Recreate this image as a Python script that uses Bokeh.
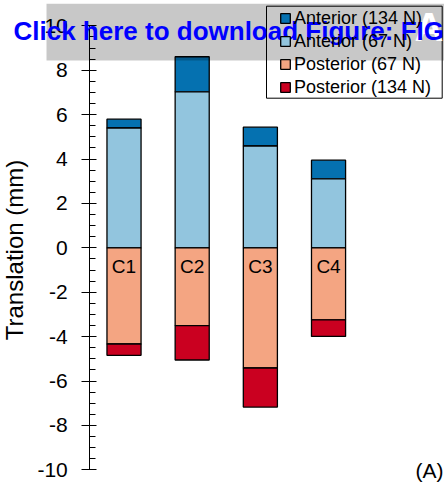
import numpy as np
from bokeh.plotting import figure
from bokeh.models import (Range1d, SingleIntervalTicker, BoxAnnotation, Label,
                          Legend, LegendItem, PrintfTickFormatter)
from bokeh.core.properties import value
from bokeh.embed import file_html
from bokeh.resources import INLINE

# ---- data ----
segments = ["C1", "C2", "C3", "C4"]
anterior_134 = [5.80, 8.61, 5.44, 3.95]
anterior_67 = [5.40, 7.03, 4.59, 3.11]
posterior_67 = [-4.33, -3.50, -5.41, -3.24]
posterior_134 = [-4.84, -5.05, -7.17, -3.99]
series_labels = ["Anterior (134 N)", "Anterior (67 N)", "Posterior (67 N)", "Posterior (134 N)"]
series_colors = ["#0571b0", "#92c5de", "#f4a582", "#ca0020"]
y_axis_bounds = (-10, 10)

x = np.arange(1, len(segments) + 1)
zeros = [0.0] * len(segments)

FONT = "Liberation Sans"
W, H = 444, 482

# frame spans the whole canvas; the y axis is pinned inside it
p = figure(width=W, height=H, output_backend="svg", toolbar_location=None,
           x_range=Range1d(-0.8117, 5.701), y_range=Range1d(-10.568, 11.144),
           x_axis_location=None, y_axis_location="left",
           min_border_left=0, min_border_right=0,
           min_border_top=0, min_border_bottom=0, outline_line_color=None,
           background_fill_color="white", border_fill_color="white")
p.grid.visible = False

bar_kw = dict(width=0.5, line_color="black", line_width=1.3)
r_a134 = p.vbar(x=x, bottom=anterior_67, top=anterior_134, fill_color=series_colors[0], **bar_kw)
r_a67 = p.vbar(x=x, bottom=zeros, top=anterior_67, fill_color=series_colors[1], **bar_kw)
r_p67 = p.vbar(x=x, bottom=posterior_67, top=zeros, fill_color=series_colors[2], **bar_kw)
r_p134 = p.vbar(x=x, bottom=posterior_134, top=posterior_67, fill_color=series_colors[3], **bar_kw)

p.text(x=x, y=zeros, text=segments, text_font=value(FONT), text_font_size="19px",
       text_align="center", text_baseline="middle", y_offset=19, text_color="black")

ax = p.yaxis[0]
ax.fixed_location = 0.498
ax.bounds = y_axis_bounds
ax.ticker = SingleIntervalTicker(interval=2, num_minor_ticks=4)
ax.formatter = PrintfTickFormatter(format="%d")
ax.major_tick_in = 7
ax.major_tick_out = 8
ax.minor_tick_in = 6
ax.minor_tick_out = 0
ax.major_label_standoff = 14
ax.major_label_text_font = FONT
ax.major_label_text_font_size = "21px"
ax.major_label_text_color = "black"
ax.axis_line_color = "black"
ax.major_tick_line_color = "black"
ax.minor_tick_line_color = "black"

def sbox(**kw):
    return BoxAnnotation(left_units="screen", right_units="screen",
                         top_units="screen", bottom_units="screen", **kw)

# legend frame
p.add_layout(sbox(left=266, right=441.7, top=H - 5.7, bottom=H - 97.7,
                  fill_color="white", fill_alpha=1.0,
                  line_color="black", line_width=1, line_alpha=1.0))

# grey banner overlay
p.add_layout(sbox(left=46, right=W + 20, top=H - 3.3, bottom=H - 60,
                  fill_color="black", fill_alpha=0.215, line_alpha=0))

p.add_layout(Label(x=414, y=H - 48, x_units="screen", y_units="screen", text="A",
                   text_font=FONT, text_font_style="bold", text_font_size="40px",
                   text_color="white"))

legend = Legend(items=[LegendItem(label=lab, renderers=[r]) for lab, r in
                       zip(series_labels, [r_a134, r_a67, r_p67, r_p134])],
                location=(279, H - 97.5), orientation="vertical",
                glyph_width=12, glyph_height=12, label_standoff=3, padding=0,
                spacing=2, margin=0, label_height=20,
                label_text_font=FONT, label_text_font_size="18px",
                label_text_color="black",
                border_line_alpha=0, background_fill_alpha=0)
p.add_layout(legend, "center")

p.add_layout(Label(x=13, y=H - 30, x_units="screen", y_units="screen",
                   text="Click here to download Figure: FIG",
                   text_font=FONT, text_font_style="bold", text_font_size="26px",
                   text_color="#0000ff", text_baseline="alphabetic"))

p.add_layout(Label(x=14, y=H - 249.5, x_units="screen", y_units="screen",
                   text="Translation (mm)", angle=np.pi / 2,
                   text_align="center", text_baseline="middle",
                   text_font=FONT, text_font_size="24px", text_color="black"))

p.add_layout(Label(x=443, y=H - 470, x_units="screen", y_units="screen", text="(A)",
                   text_align="right", text_baseline="alphabetic",
                   text_font=FONT, text_font_size="21px", text_color="black"))

open("out.html", "w").write(file_html(p, INLINE))
